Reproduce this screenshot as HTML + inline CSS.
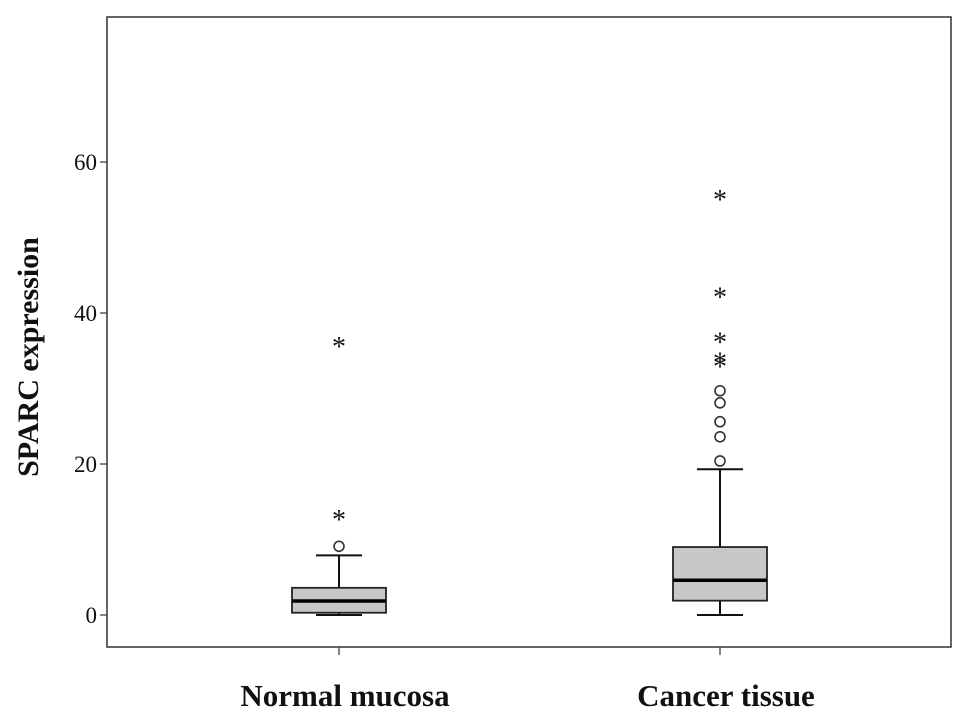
<!DOCTYPE html>
<html><head><meta charset="utf-8"><style>
body{margin:0;background:#fff;}
svg text{font-family:"Liberation Serif",serif;fill:#111;}
</style></head><body>
<svg id="c" width="969" height="720"></svg>
<script>
const categories=["Normal mucosa","Cancer tissue"];
const mins=[0,0];
const q1s=[0.3,1.9];
const medians=[1.85,4.6];
const q3s=[3.6,9.0];
const maxs=[7.9,19.3];
const circleOutliers=[[9.1],[20.4,23.6,25.6,28.1,29.7]];
const starOutliers=[[13.1,36.0],[33.4,34.0,36.6,42.6,55.5]];
const yTicks=[0,20,40,60];
const NS="http://www.w3.org/2000/svg";
const svg=document.getElementById('c');
const L=107,T=17,R=951,B=647;
function y(v){return 615-v*7.55;}
function x(i){return 339+i*381;}
function mk(t,a,p){const e=document.createElementNS(NS,t);for(const k in a)e.setAttribute(k,a[k]);(p||svg).appendChild(e);return e;}
const frame=mk('rect',{x:L,y:T,width:R-L,height:B-T,fill:'none',stroke:'#333','stroke-width':1.5});


yTicks.forEach(v=>{
 const g=mk('g',{});
 
 
 mk('line',{x1:L-7,x2:L,y1:y(v),y2:y(v),stroke:'#333','stroke-width':1.2},g);
 const t=mk('text',{x:L-10,y:y(v)+8,'text-anchor':'end','font-size':23},g);t.textContent=v;
});
const yt=mk('text',{x:38,y:357,'text-anchor':'middle','font-size':30,'font-weight':'bold',transform:'rotate(-90 38 357)'});
yt.textContent='SPARC expression';


categories.forEach((c,i)=>{
 const cx=x(i);
 const g=mk('g',{});
 
 
 mk('line',{x1:cx,x2:cx,y1:B,y2:B+8,stroke:'#333','stroke-width':1.2},g);
 const lt=mk('text',{x:cx+6,y:706,'text-anchor':'middle','font-size':31,'font-weight':'bold'},g);lt.textContent=c;
 mk('line',{x1:cx,x2:cx,y1:y(maxs[i]),y2:y(q3s[i]),stroke:'#111','stroke-width':2},g);
 mk('line',{x1:cx,x2:cx,y1:y(q1s[i]),y2:y(mins[i]),stroke:'#111','stroke-width':2},g);
 mk('line',{x1:cx-23,x2:cx+23,y1:y(maxs[i]),y2:y(maxs[i]),stroke:'#111','stroke-width':2},g);
 mk('line',{x1:cx-23,x2:cx+23,y1:y(mins[i]),y2:y(mins[i]),stroke:'#111','stroke-width':2},g);
 mk('rect',{x:cx-47,y:y(q3s[i]),width:94,height:y(q1s[i])-y(q3s[i]),fill:'#c8c8c8',stroke:'#222','stroke-width':1.8},g);
 mk('line',{x1:cx-47,x2:cx+47,y1:y(medians[i]),y2:y(medians[i]),stroke:'#000','stroke-width':3.5},g);
 circleOutliers[i].forEach(v=>{mk('circle',{cx:cx,cy:y(v),r:5,fill:'#fff',stroke:'#333','stroke-width':1.6},g);});
 starOutliers[i].forEach(v=>{const s=mk('text',{x:cx,y:y(v)+13,'text-anchor':'middle','font-size':28},g);s.textContent='*';});
});
</script>
</body></html>
